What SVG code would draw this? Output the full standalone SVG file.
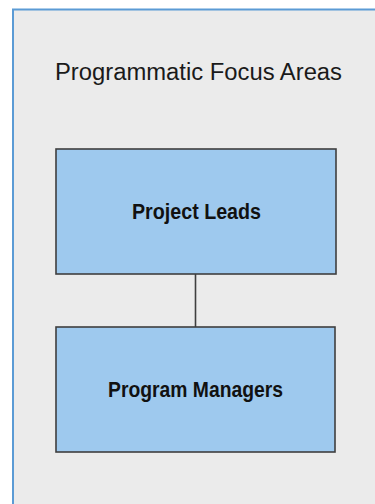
<svg xmlns="http://www.w3.org/2000/svg" width="375" height="504" viewBox="0 0 375 504">
<style>
.node{fill:#9ec9ee;stroke:#3f3f3f;stroke-width:1.6}
.lbl{font-family:"Liberation Sans",Arial,sans-serif;font-weight:bold;font-size:22px;fill:#111;text-anchor:middle}
.edge{stroke:#3f3f3f;stroke-width:1.6;fill:none}
</style>
<rect x="0" y="0" width="375" height="504" fill="#ffffff"/>
<g id="container">
<rect x="13" y="9.5" width="380" height="510" fill="#ebebeb" stroke="#5b9bd5" stroke-width="2"/>
<text x="198.5" y="80" font-family="'Liberation Sans',Arial,sans-serif" font-size="23" fill="#1a1a1a" text-anchor="middle" textLength="287" lengthAdjust="spacingAndGlyphs">Programmatic Focus Areas</text>
</g>
<g id="connectors">
<line class="edge" x1="195.5" y1="274" x2="195.5" y2="327"/>
</g>
<g id="project-leads">
<rect class="node" x="56" y="149" width="280" height="125"/>
<text class="lbl" x="196.5" y="219" textLength="129" lengthAdjust="spacingAndGlyphs">Project Leads</text>
</g>
<g id="program-managers">
<rect class="node" x="56" y="327" width="279" height="125"/>
<text class="lbl" x="195.5" y="397" textLength="175" lengthAdjust="spacingAndGlyphs">Program Managers</text>
</g>
</svg>
